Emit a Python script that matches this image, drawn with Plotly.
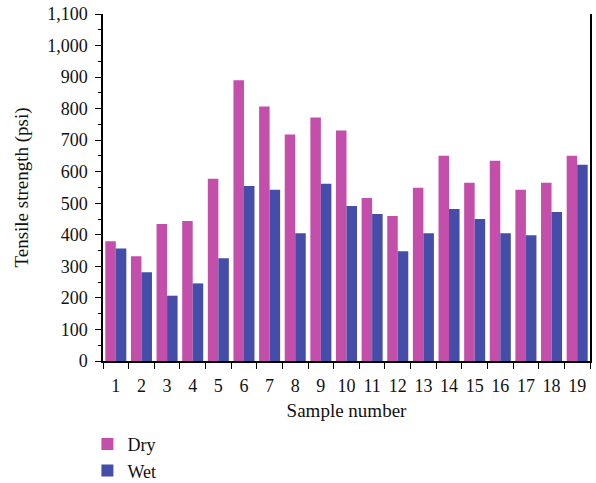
import plotly.graph_objects as go

# Tensile strength per sample, dry vs. wet conditioning (psi)
samples = [str(i) for i in range(1, 20)]
dry_psi = [380, 332, 434, 444, 578, 890, 807, 718, 772, 731, 517, 460, 549, 651, 565, 635, 543, 565, 651]
wet_psi = [357, 281, 207, 246, 326, 555, 543, 405, 562, 491, 466, 348, 405, 482, 450, 405, 399, 472, 622]
y_ticks = list(range(0, 1101, 100))

DRY_COLOR = "#C44FAB"
WET_COLOR = "#444DA7"
FONT = "Liberation Serif"

fig = go.Figure()
fig.add_trace(go.Bar(x=samples, y=dry_psi, name="Dry", marker=dict(color=DRY_COLOR, line=dict(width=0))))
fig.add_trace(go.Bar(x=samples, y=wet_psi, name="Wet", marker=dict(color=WET_COLOR, line=dict(width=0))))

fig.update_layout(
    width=596,
    height=483,
    margin=dict(l=103, r=6, t=14, b=122, autoexpand=False),
    barmode="group",
    bargap=0.18,
    bargroupgap=0,
    plot_bgcolor="white",
    paper_bgcolor="white",
    font=dict(family=FONT, size=18, color="#111111"),
    showlegend=True,
    legend=dict(
        orientation="v",
        x=-0.032,
        xanchor="left",
        y=-0.187,
        yanchor="top",
        font=dict(family=FONT, size=18, color="#111111"),
        bgcolor="rgba(0,0,0,0)",
        tracegroupgap=2,
        itemwidth=30,
    ),
)

fig.update_xaxes(
    type="category",
    range=[-0.5, 18.5],
    automargin=False,
    tickangle=0,
    tickson="boundaries",
    ticks="outside",
    ticklen=6,
    tickwidth=1,
    tickcolor="black",
    ticklabelstandoff=8,
    showline=True,
    linecolor="black",
    linewidth=1.5,
    showgrid=False,
    zeroline=False,
    tickfont=dict(family=FONT, size=18),
    title=dict(text="Sample number", font=dict(family=FONT, size=19), standoff=8),
)

fig.update_yaxes(
    range=[0, 1100],
    automargin=False,
    tickvals=y_ticks,
    tickformat=",",
    ticks="outside",
    ticklen=6,
    tickwidth=1,
    tickcolor="black",
    ticklabelstandoff=4,
    minor=dict(dtick=50, ticks="outside", ticklen=3, tickcolor="black", tickwidth=1),
    showline=True,
    linecolor="black",
    linewidth=1.5,
    mirror=True,
    showgrid=False,
    zeroline=False,
    tickfont=dict(family=FONT, size=18),
    title=dict(text="Tensile strength (psi)", font=dict(family=FONT, size=19), standoff=14),
)

fig.write_html("out.html")
